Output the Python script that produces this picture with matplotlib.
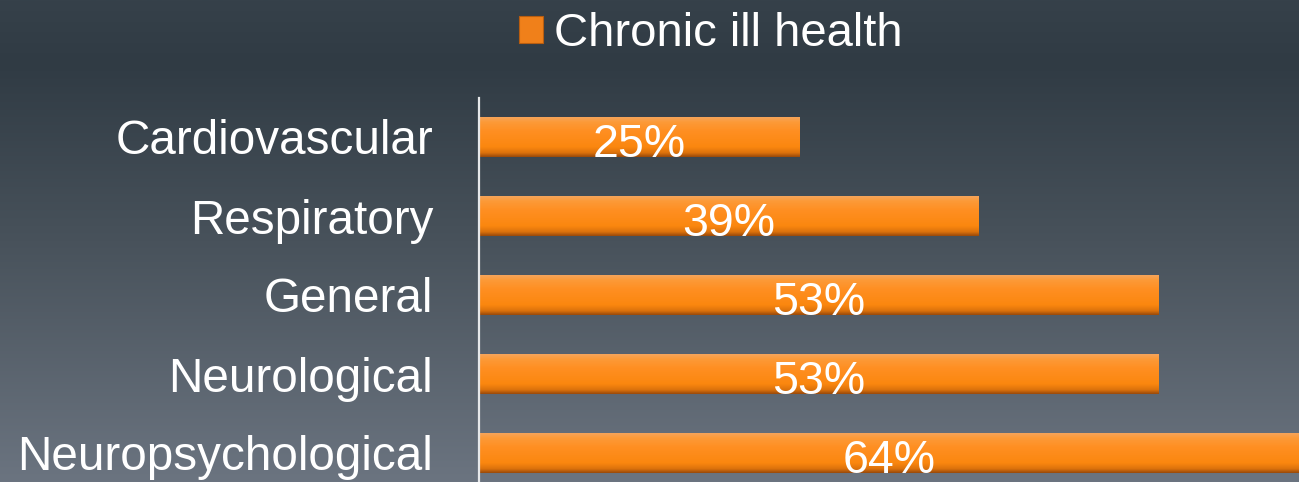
import numpy as np
import matplotlib
matplotlib.use("Agg")
import matplotlib.pyplot as plt
from matplotlib.colors import LinearSegmentedColormap
from matplotlib.patches import Patch

categories = ["Cardiovascular", "Respiratory", "General", "Neurological", "Neuropsychological"]
values = [25, 39, 53, 53, 64]
value_labels = ["25%", "39%", "53%", "53%", "64%"]
series_name = "Chronic ill health"

plt.rcParams['font.family'] = ['Liberation Sans', 'DejaVu Sans']

W, H = 1299, 482
fig = plt.figure(figsize=(W / 100, H / 100), dpi=100)

# background gradient
bg = fig.add_axes([0, 0, 1, 1], zorder=-10)
bg_cmap = LinearSegmentedColormap.from_list(
    "bg", [(0.0, "#36414a"), (0.13, "#303b44"), (0.5, "#48525b"), (1.0, "#6b7480")])
bg.imshow(np.linspace(0, 1, 256).reshape(-1, 1), aspect='auto', cmap=bg_cmap,
          extent=[0, 1, 0, 1], origin='upper')
bg.axis('off')

left = 479 / W
ax = fig.add_axes([left, -10.5 / H, 1 - left, 395 / H])
ax.patch.set_alpha(0)

y = np.arange(len(categories))
bars = ax.barh(y, values, height=0.506, color="#f98b1c", edgecolor="none", zorder=2)

bar_cmap = LinearSegmentedColormap.from_list(
    "bar", [(0.0, "#f6a45a"), (0.12, "#fc9a38"), (0.35, "#ff8f22"),
            (0.75, "#fb870f"), (0.9, "#dc720c"), (1.0, "#9a4a0a")])
grad = np.linspace(0, 1, 100).reshape(-1, 1)
for b in bars:
    x0, y0, w, h = b.get_x(), b.get_y(), b.get_width(), b.get_height()
    im = ax.imshow(grad, aspect='auto', cmap=bar_cmap, origin='upper',
                   extent=[x0, x0 + w, y0 + h, y0], zorder=3, interpolation='bilinear')
    im.set_clip_path(b)

for i, (v, lab) in enumerate(zip(values, value_labels)):
    ax.text(v / 2, i + 0.255, lab, ha='center', va='baseline', color='white',
            fontsize=33.5, zorder=5)

ax.set_xlim(0, 64)
ax.set_ylim(len(categories) - 0.5, -0.5)
ax.set_yticks(y)
ax.set_yticklabels(categories, color='white', fontsize=34.3)
ax.tick_params(axis='y', length=0, pad=33)
ax.set_xticks([])
for s in ['top', 'right', 'bottom']:
    ax.spines[s].set_visible(False)
ax.spines['left'].set_color('#e6e8ea')
ax.spines['left'].set_linewidth(1.6)
ax.spines['left'].set_zorder(6)

handle = Patch(facecolor="#f0801a", edgecolor="#b85d10", linewidth=0.8, label=series_name)
fig.legend(handles=[handle], loc='center left', bbox_to_anchor=(519 / W, 1 - 34 / H),
           frameon=False, fontsize=34, labelcolor='white', borderpad=0, borderaxespad=0,
           handlelength=0.5, handleheight=0.5, handletextpad=0.25)

fig.savefig("out.png", dpi=100)
